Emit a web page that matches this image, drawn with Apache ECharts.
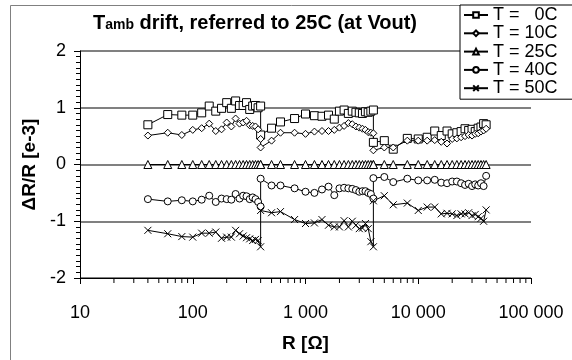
<!DOCTYPE html>
<html><head><meta charset="utf-8">
<script src="https://cdn.jsdelivr.net/npm/echarts/dist/echarts.min.js"></script>
<style>html,body{margin:0;padding:0;background:#fff}#c{width:572px;height:360px}</style>
</head><body><div id="c"></div><script>
// Resistance values (three measurement ranges)
const rangeLow  = [40,60,80,100,120,140,160,180,200,220,240,260,280,300,320,340,360,380,400];
const rangeMid  = [400,500,600,800,1000,1200,1400,1600,1800,2000,2200,2400,2600,2800,3000,3200,3400,3600,3800,4000];
const rangeHigh = [4000,5000,6000,8000,10000,12000,14000,16000,18000,20000,22000,24000,26000,28000,30000,32000,34000,36000,38000,40000];
const R = rangeLow.concat(rangeMid, rangeHigh);

const seriesNames = ['T =   0C','T = 10C','T = 25C','T = 40C','T = 50C'];

const t0 = [0.70,0.88,0.87,0.87,0.91,1.03,0.94,0.99,1.09,0.99,1.12,1.04,1.04,1.09,0.97,1.03,1.04,1.00,1.03,
            0.52,0.64,0.75,0.81,0.89,0.86,0.85,0.87,0.80,0.94,0.96,0.90,0.94,0.92,0.91,0.90,0.93,0.92,0.94,0.96,
            0.39,0.42,0.27,0.46,0.45,0.48,0.59,0.51,0.59,0.54,0.56,0.58,0.63,0.60,0.62,0.58,0.64,0.66,0.72,0.70];
const t10 = [0.51,0.56,0.52,0.61,0.64,0.72,0.59,0.62,0.74,0.67,0.81,0.72,0.74,0.77,0.69,0.68,0.67,0.62,0.45,
             0.30,0.42,0.56,0.56,0.54,0.58,0.59,0.59,0.61,0.65,0.68,0.73,0.71,0.67,0.65,0.63,0.61,0.57,0.56,0.55,
             0.25,0.30,0.30,0.42,0.42,0.42,0.43,0.40,0.37,0.45,0.46,0.48,0.50,0.52,0.51,0.54,0.55,0.58,0.60,0.63];
const t25 = [0,0,0,0,0,0,0,0,0,0,0,0,0,0,0,0,0,0,0,
             0,0,0,0,0,0,0,0,0,0,0,0,0,0,0,0,0,0,0,0,
             0,0,0,0,0,0,0,0,0,0,0,0,0,0,0,0,0,0,0,0];
const t40 = [-0.61,-0.65,-0.63,-0.65,-0.62,-0.55,-0.66,-0.60,-0.61,-0.62,-0.52,-0.60,-0.55,-0.56,-0.61,-0.58,-0.61,-0.66,-0.74,
             -0.25,-0.37,-0.37,-0.42,-0.48,-0.50,-0.44,-0.39,-0.54,-0.42,-0.41,-0.42,-0.43,-0.45,-0.48,-0.47,-0.47,-0.50,-0.52,-0.60,
             -0.24,-0.22,-0.31,-0.25,-0.28,-0.28,-0.27,-0.32,-0.33,-0.30,-0.30,-0.33,-0.36,-0.34,-0.38,-0.35,-0.37,-0.33,-0.38,-0.20];
const t50 = [-1.16,-1.22,-1.27,-1.28,-1.21,-1.21,-1.19,-1.30,-1.28,-1.28,-1.16,-1.22,-1.26,-1.29,-1.31,-1.34,-1.32,-1.34,-1.45,
             -0.81,-0.85,-0.83,-0.97,-1.04,-1.03,-0.97,-1.07,-1.10,-1.10,-0.99,-1.10,-1.00,-1.07,-1.13,-1.12,-1.04,-1.13,-1.36,-1.45,
             -0.64,-0.55,-0.71,-0.68,-0.81,-0.75,-0.75,-0.87,-0.86,-0.87,-0.90,-0.87,-0.87,-0.85,-0.90,-0.88,-0.92,-0.95,-1.00,-0.80];

const xMinorTicks = [20,30,40,50,60,70,80,90,200,300,400,500,600,700,800,900,
                     2000,3000,4000,5000,6000,7000,8000,9000,20000,30000,40000,50000,60000,70000,80000,90000];
const yTickLabels = ['-2','-1','0','1','2'];

const FONT = 'Liberation Sans, Arial, sans-serif';
const chart = echarts.init(document.getElementById('c'), null, {renderer:'canvas'});

function mk(name, vals, symbol, size){
  return {
    name, type:'line', data: R.map((r,i)=>[r, vals[i]]),
    symbol, symbolSize:size, showSymbol:true,
    lineStyle:{color:'#000', width:1},
    itemStyle:{color:'#fff', borderColor:'#000', borderWidth:1},
    emphasis:{disabled:true}, z:3
  };
}

chart.setOption({
  animation:false,
  backgroundColor:'#fff',
  title:{
    text:'{a|T}{b|amb}{a| drift, referred to 25C (at Vout)}',
    left:88, top:8,
    textStyle:{rich:{
      a:{fontSize:20, fontWeight:'bold', fontFamily:FONT, color:'#000'},
      b:{fontSize:14, fontWeight:'bold', fontFamily:FONT, color:'#000', padding:[5,0,0,0]}
    }}
  },
  graphic:[{type:'rect', silent:true, z:-10, shape:{x:10.5, y:5.5, width:600, height:400},
            style:{fill:'none', stroke:'#808080', lineWidth:1}}],
  legend:{
    orient:'vertical', left:460, top:5,
    data:seriesNames,
    backgroundColor:'#fff', borderColor:'#000', borderWidth:1, borderRadius:0,
    padding:[1,20,2,3], itemWidth:24, itemHeight:7, itemGap:0.3, itemTextGap:8,
    selectedMode:false,
    textStyle:{fontSize:18, fontFamily:FONT, color:'#000', lineHeight:18}
  },
  grid:{left:80, right:41, top:51, bottom:82, containLabel:false},
  xAxis:{
    type:'log', logBase:10, min:10, max:100000,
    name:'R [Ω]', nameLocation:'middle', nameGap:56,
    nameTextStyle:{fontSize:19, fontWeight:'bold', fontFamily:FONT, color:'#000'},
    axisLine:{onZero:false, lineStyle:{color:'#000', width:1}},
    axisTick:{show:true, length:6, lineStyle:{color:'#000'}},
    axisLabel:{fontSize:18, fontFamily:FONT, color:'#000', margin:26,
      formatter:v=>String(Math.round(v)).replace(/\B(?=(\d{3})+(?!\d))/g,' ')},
    splitLine:{show:false}, minorTick:{show:false}
  },
  yAxis:{
    type:'value', min:-2, max:2, interval:1,
    name:'ΔR/R [e-3]', nameLocation:'middle', nameRotate:90, nameGap:34,
    nameTextStyle:{fontSize:19, fontWeight:'bold', fontFamily:FONT, color:'#000'},
    axisLine:{show:true, lineStyle:{color:'#000', width:1}},
    axisTick:{show:true, length:6, lineStyle:{color:'#000'}},
    minorTick:{show:true, splitNumber:10, length:4, lineStyle:{color:'#000'}},
    axisLabel:{fontSize:18, fontFamily:FONT, color:'#000', margin:14,
      formatter:v=>yTickLabels[Math.round(v)+2]},
    splitLine:{show:true, lineStyle:{color:'#808080', width:2}}
  },
  series:[
    mk(seriesNames[0], t0, 'rect', 8),
    mk(seriesNames[1], t10, 'diamond', 7),
    mk(seriesNames[2], t25, 'triangle', 8),
    mk(seriesNames[3], t40, 'circle', 7),
    mk(seriesNames[4], t50, 'path://M0,0L10,10M0,10L10,0', 7),
    {
      type:'custom', silent:true, z:4, clip:false,
      data: xMinorTicks.map(v=>[v,-2]),
      renderItem:(params, api)=>{
        const p = api.coord([api.value(0), api.value(1)]);
        return {type:'line', shape:{x1:p[0], y1:p[1], x2:p[0], y2:p[1]+5},
                style:{stroke:'#000', lineWidth:1}};
      }
    }
  ]
});
</script></body></html>
